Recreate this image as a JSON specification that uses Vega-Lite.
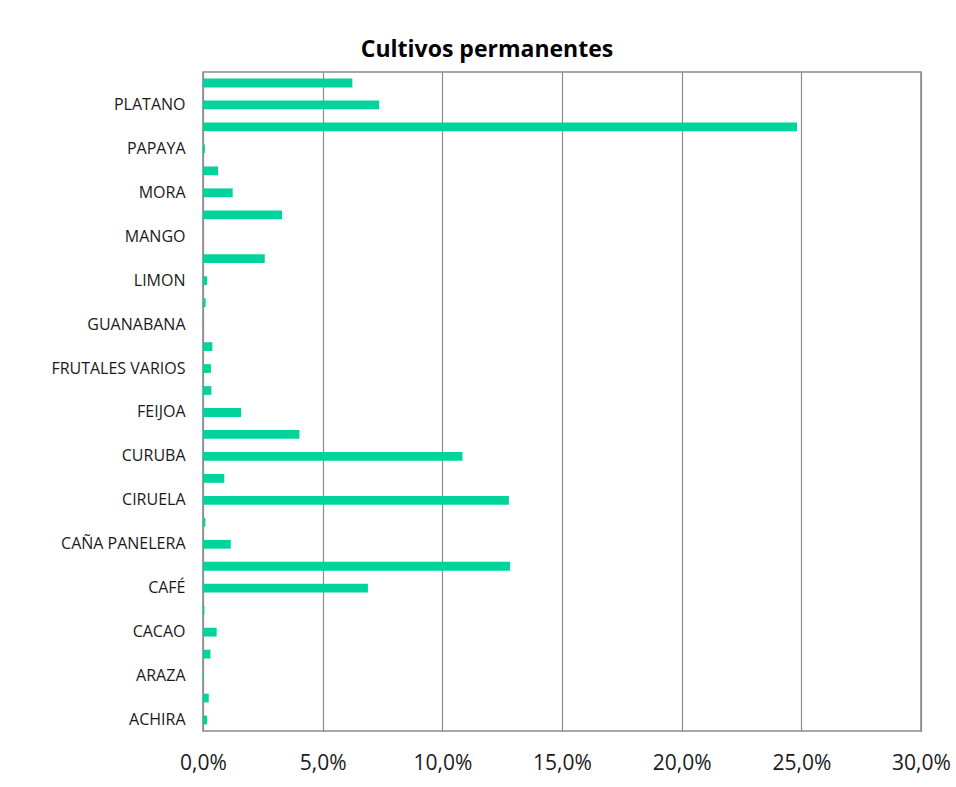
{
  "$schema": "https://vega.github.io/schema/vega-lite/v6.json",
  "width": 718,
  "height": 659,
  "autosize": {"type": "none"},
  "padding": {"left": 203, "top": 72, "right": 35, "bottom": 56},
  "background": "white",
  "title": {
    "text": "Cultivos permanentes",
    "font": "Open Sans",
    "fontSize": 23,
    "fontWeight": "bold",
    "color": "#000000",
    "anchor": "middle",
    "dx": -75,
    "offset": 10
  },
  "data": {
    "values": [
      {"cultivo": "TOMATE DE ARBOL", "participacion": 0.0624},
      {"cultivo": "PLATANO", "participacion": 0.0736},
      {"cultivo": "PITAHAYA", "participacion": 0.2482},
      {"cultivo": "PAPAYA", "participacion": 0.0008},
      {"cultivo": "NARANJA", "participacion": 0.0063},
      {"cultivo": "MORA", "participacion": 0.0124},
      {"cultivo": "MARACUYA", "participacion": 0.033},
      {"cultivo": "MANGO", "participacion": 0.0},
      {"cultivo": "LULO", "participacion": 0.0258},
      {"cultivo": "LIMON", "participacion": 0.0017},
      {"cultivo": "GULUPA", "participacion": 0.0011},
      {"cultivo": "GUANABANA", "participacion": 0.0001},
      {"cultivo": "GRANADILLA", "participacion": 0.0039},
      {"cultivo": "FRUTALES VARIOS", "participacion": 0.0033},
      {"cultivo": "FIQUE", "participacion": 0.0035},
      {"cultivo": "FEIJOA", "participacion": 0.0159},
      {"cultivo": "DURAZNO", "participacion": 0.0403},
      {"cultivo": "CURUBA", "participacion": 0.1084},
      {"cultivo": "CITRICOS", "participacion": 0.0089},
      {"cultivo": "CIRUELA", "participacion": 0.1278},
      {"cultivo": "CHONTADURO", "participacion": 0.001},
      {"cultivo": "CAÑA PANELERA", "participacion": 0.0116},
      {"cultivo": "CAÑA MIEL", "participacion": 0.1283},
      {"cultivo": "CAFÉ", "participacion": 0.0689},
      {"cultivo": "CAUCHO", "participacion": 0.0006},
      {"cultivo": "CACAO", "participacion": 0.0057},
      {"cultivo": "BANANO", "participacion": 0.0031},
      {"cultivo": "ARAZA", "participacion": 0.0004},
      {"cultivo": "AGUACATE", "participacion": 0.0024},
      {"cultivo": "ACHIRA", "participacion": 0.0017}
    ]
  },
  "mark": {"type": "bar", "color": "#00D39C"},
  "encoding": {
    "y": {
      "field": "cultivo",
      "type": "nominal",
      "sort": null,
      "scale": {"paddingInner": 0.6, "paddingOuter": 0.3},
      "axis": {
        "title": null,
        "ticks": false,
        "domain": false,
        "labelPadding": 18,
        "labelFont": "Open Sans",
        "labelFontSize": 16,
        "labelColor": "#1a1a1a",
        "labelExpr": "indexof(['PLATANO','PAPAYA','MORA','MANGO','LIMON','GUANABANA','FRUTALES VARIOS','FEIJOA','CURUBA','CIRUELA','CAÑA PANELERA','CAFÉ','CACAO','ARAZA','ACHIRA'], datum.label) >= 0 ? datum.label : ''"
      }
    },
    "x": {
      "field": "participacion",
      "type": "quantitative",
      "scale": {"domain": [0, 0.3], "nice": false},
      "axis": {
        "title": null,
        "values": [0, 0.05, 0.1, 0.15, 0.2, 0.25, 0.3],
        "format": ".1%",
        "ticks": false,
        "domain": false,
        "grid": true,
        "gridColor": "#8c8c8c",
        "gridWidth": 1.2,
        "gridOpacity": 1,
        "labelFlush": false,
        "labelOverlap": false,
        "labelBound": false,
        "labelPadding": 21,
        "labelFont": "Open Sans",
        "labelFontSize": 21,
        "labelColor": "#1a1a1a"
      }
    }
  },
  "config": {
    "view": {"stroke": "#8c8c8c", "strokeWidth": 1.6},
    "locale": {
      "number": {
        "decimal": ",",
        "thousands": ".",
        "grouping": [3],
        "currency": ["$", ""]
      }
    }
  }
}
